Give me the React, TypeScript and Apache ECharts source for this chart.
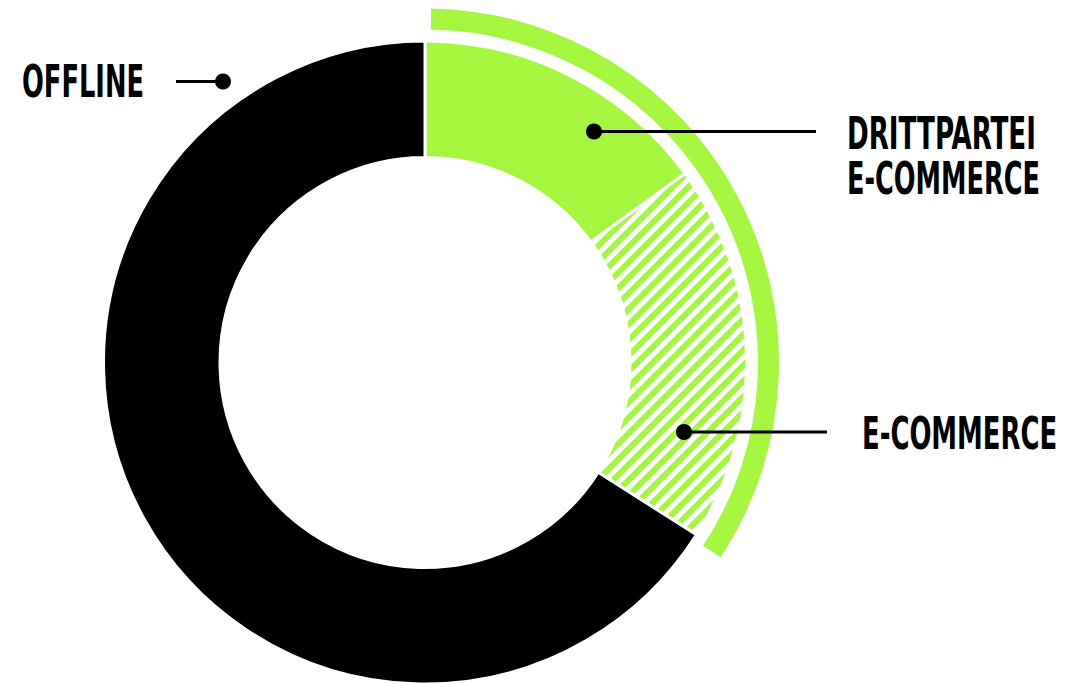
import React, { useEffect, useRef } from "react";
import * as echarts from "echarts";

const categories = ["Drittpartei E-Commerce", "E-Commerce", "Offline"];
const shares = [15, 19, 66];
const labelTexts = ["DRITTPARTEI\nE-COMMERCE", "E-COMMERCE", "OFFLINE"];

const GREEN = "#a5f63f";
const FONT_FAMILY = "'Liberation Sans Narrow', 'DejaVu Sans Condensed', 'Liberation Sans', sans-serif";
const FONT_SIZE = 45;

function measure(text: string): number {
  const c = document.createElement("canvas");
  const ctx = c.getContext("2d")!;
  ctx.font = `bold ${FONT_SIZE}px ${FONT_FAMILY}`;
  return ctx.measureText(text).width;
}

function fitText(text: string, x: number, y: number, targetWidth: number) {
  const w = measure(text);
  const s = targetWidth / w;
  return {
    type: "text",
    x,
    y,
    z: 100,
    scaleX: s,
    style: {
      text,
      fontSize: FONT_SIZE,
      fontWeight: "bold",
      fontFamily: FONT_FAMILY,
      fill: "#000",
      textAlign: "left",
      textVerticalAlign: "middle",
    },
  };
}

export default function App() {
  const ref = useRef<HTMLDivElement>(null);
  useEffect(() => {
    if (!ref.current) return;
    const chart = echarts.init(ref.current, undefined, { renderer: "svg" });
    const eTotal = shares[0] + shares[1];
    const total = shares.reduce((a, b) => a + b, 0);
    const [l1a, l1b] = labelTexts[0].split("\n");
    chart.setOption({
      animation: false,
      backgroundColor: "#fff",
      series: [
        {
          type: "pie",
          center: [425, 362.5],
          radius: [205, 321.5],
          startAngle: 90,
          clockwise: true,
          silent: true,
          z: 1,
          label: { show: false },
          labelLine: { show: false },
          emphasis: { disabled: true },
          itemStyle: { borderColor: "#fff", borderWidth: 3 },
          data: [
            { name: categories[0], value: shares[0], itemStyle: { color: GREEN } },
            {
              name: categories[1],
              value: shares[1],
              itemStyle: {
                color: "#fff",
                decal: {
                  symbol: "rect",
                  symbolSize: 1,
                  dashArrayX: [1, 0],
                  dashArrayY: [6, 5],
                  rotation: -Math.PI / 4,
                  color: GREEN,
                },
              },
            },
            { name: categories[2], value: shares[2], itemStyle: { color: "#000" } },
          ],
        },
        {
          type: "pie",
          center: [425, 362.5],
          radius: [333, 354],
          startAngle: 89,
          clockwise: true,
          silent: true,
          z: 1,
          label: { show: false },
          labelLine: { show: false },
          emphasis: { disabled: true },
          data: [
            { name: "E-Commerce gesamt", value: eTotal, itemStyle: { color: GREEN } },
            { name: "rest", value: total - eTotal, itemStyle: { color: "rgba(0,0,0,0)" } },
          ],
        },
      ],
      graphic: [
        { type: "line", z: 100, shape: { x1: 176, y1: 81.5, x2: 223, y2: 81.5 }, style: { stroke: "#000", lineWidth: 3 } },
        { type: "circle", z: 100, shape: { cx: 223, cy: 81.5, r: 8 }, style: { fill: "#000" } },
        { type: "line", z: 100, shape: { x1: 594, y1: 131.5, x2: 816, y2: 131.5 }, style: { stroke: "#000", lineWidth: 3 } },
        { type: "circle", z: 100, shape: { cx: 594, cy: 131.5, r: 8 }, style: { fill: "#000" } },
        { type: "line", z: 100, shape: { x1: 684, y1: 432, x2: 827, y2: 432 }, style: { stroke: "#000", lineWidth: 3 } },
        { type: "circle", z: 100, shape: { cx: 684, cy: 432, r: 8 }, style: { fill: "#000" } },
        fitText(labelTexts[2], 22, 81.5, 122),
        fitText(l1a, 847, 134, 189),
        fitText(l1b, 847, 178, 193),
        fitText(labelTexts[1], 862, 434, 195),
      ],
    });
    return () => chart.dispose();
  }, []);
  return (
    <div
      ref={ref}
      style={{ position: "fixed", left: 0, top: 0, width: 1084, height: 683 }}
    />
  );
}
